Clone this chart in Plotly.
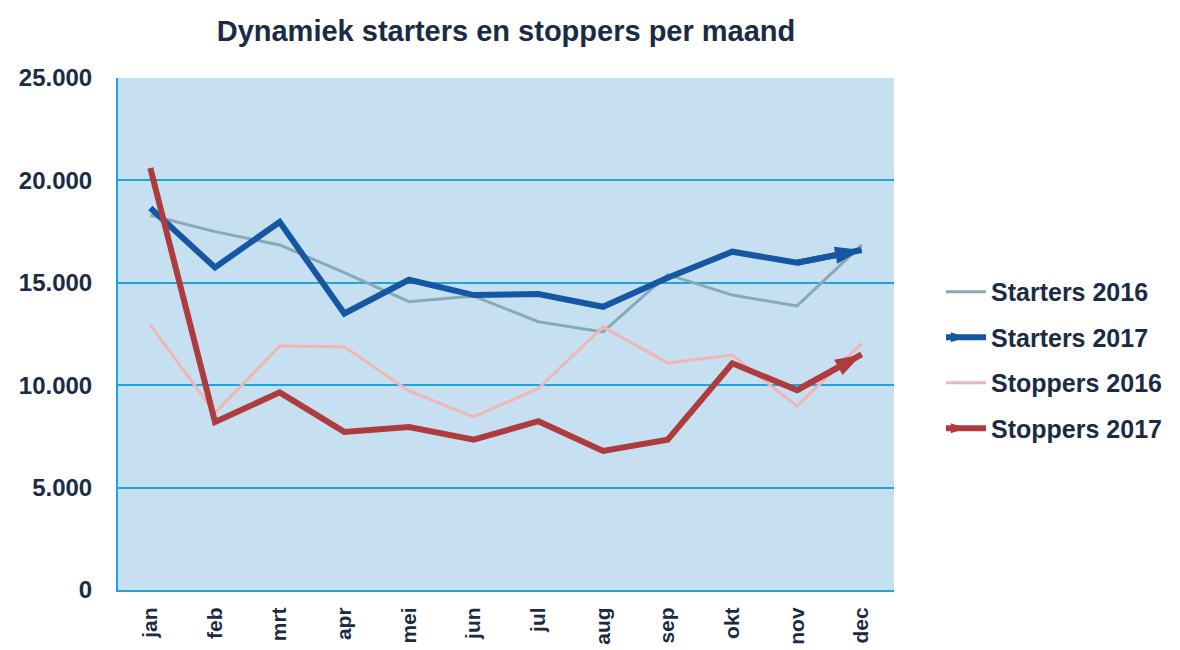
import plotly.graph_objects as go

months = ["jan", "feb", "mrt", "apr", "mei", "jun", "jul", "aug", "sep", "okt", "nov", "dec"]
starters_2016 = [18300, 17500, 16850, 15500, 14080, 14350, 13100, 12600, 15400, 14400, 13870, 16850]
starters_2017 = [18650, 15750, 17970, 13500, 15150, 14400, 14450, 13830, 15250, 16520, 15980, 16600]
stoppers_2016 = [12930, 8650, 11910, 11880, 9720, 8450, 9840, 12850, 11090, 11470, 8970, 12040]
stoppers_2017 = [20600, 8200, 9650, 7720, 7960, 7340, 8240, 6790, 7340, 11070, 9760, 11500]
y_ticks = [0, 5000, 10000, 15000, 20000, 25000]

C_S16 = "#88a9b6"
C_S17 = "#1557a2"
C_P16 = "#f0b6b6"
C_P17 = "#ae3c3c"
GRID = "#1fa6d8"
TXT = "#1b2b45"
FONT = "Liberation Sans"

fig = go.Figure()

fig.add_trace(go.Scatter(x=months, y=starters_2016, mode="lines", name="Starters 2016",
                         legendgroup="g1", line=dict(color=C_S16, width=3)))

fig.add_trace(go.Scatter(x=months, y=starters_2017, mode="lines", name="Starters 2017",
                         legendgroup="g2", showlegend=False, line=dict(color=C_S17, width=6)))
fig.add_trace(go.Scatter(x=months[-2:], y=starters_2017[-2:], mode="lines+markers", name="Starters 2017",
                         legendgroup="g2", line=dict(color=C_S17, width=6),
                         marker=dict(symbol="arrow", angleref="previous", size=28, color=C_S17)))

fig.add_trace(go.Scatter(x=months, y=stoppers_2016, mode="lines", name="Stoppers 2016",
                         legendgroup="g3", line=dict(color=C_P16, width=3)))

fig.add_trace(go.Scatter(x=months, y=stoppers_2017, mode="lines", name="Stoppers 2017",
                         legendgroup="g4", showlegend=False, line=dict(color=C_P17, width=6)))
fig.add_trace(go.Scatter(x=months[-2:], y=stoppers_2017[-2:], mode="lines+markers", name="Stoppers 2017",
                         legendgroup="g4", line=dict(color=C_P17, width=6),
                         marker=dict(symbol="arrow", angleref="previous", size=28, color=C_P17)))

fig.update_layout(
    width=1180, height=650,
    margin=dict(l=110, r=294, t=70, b=68),
    paper_bgcolor="white",
    plot_bgcolor="#c6e0f2",
    separators=",.",
    font=dict(family=FONT, color=TXT),
    title=dict(text="<b>Dynamiek starters en stoppers per maand</b>",
               x=0.5, xref="paper", xanchor="center",
               y=1 - 23 / 650, yref="container", yanchor="middle",
               font=dict(size=29, color=TXT, family=FONT)),
    xaxis=dict(type="category", categoryorder="array", categoryarray=months,
               range=[-0.5, 11.5], showgrid=False, zeroline=False, automargin=False,
               showline=True, linecolor=GRID, linewidth=2,
               tickangle=-90, ticks="", ticklabelstandoff=7,
               tickfont=dict(size=21, color=TXT, family=FONT, weight="bold")),
    yaxis=dict(range=[0, 25000], tickvals=y_ticks, tickformat=",d", automargin=False,
               showgrid=True, gridcolor=GRID, gridwidth=1.5, zeroline=False,
               showline=True, linecolor=GRID, linewidth=2,
               ticks="", ticklabelstandoff=19,
               tickfont=dict(size=24, color=TXT, family=FONT, weight="bold")),
    legend=dict(x=1.0606, y=0.627, xanchor="left", yanchor="top",
                traceorder="grouped", tracegroupgap=10,
                font=dict(size=25, color=TXT, family=FONT, weight="bold"),
                itemwidth=40, bgcolor="rgba(0,0,0,0)"),
)

fig.write_html("out.html")
